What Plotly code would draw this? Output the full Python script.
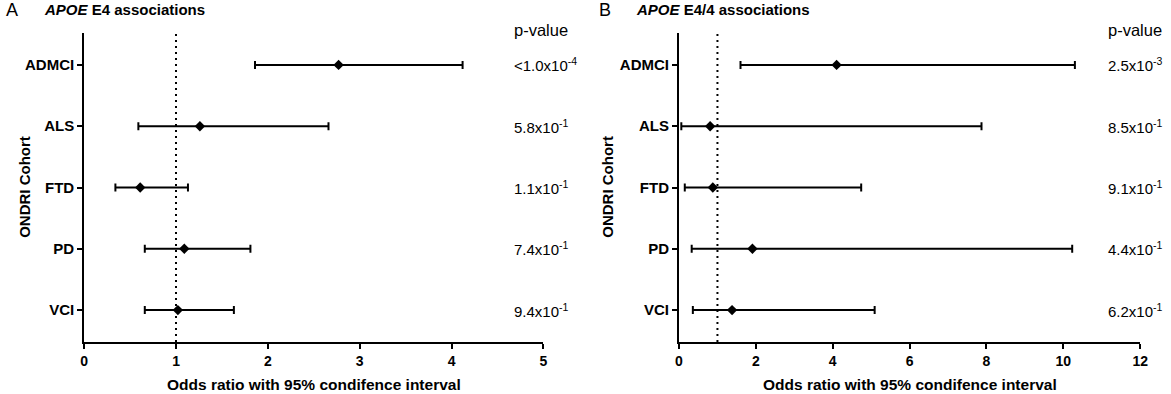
import plotly.graph_objects as go
from plotly.subplots import make_subplots

cohorts = ["ADMCI", "ALS", "FTD", "PD", "VCI"]

# Panel A: APOE E4
or_a = [2.77, 1.26, 0.61, 1.09, 1.02]
lo_a = [1.86, 0.59, 0.34, 0.66, 0.66]
hi_a = [4.12, 2.66, 1.13, 1.81, 1.63]
p_a = ["<1.0x10<sup>-4</sup>", "5.8x10<sup>-1</sup>", "1.1x10<sup>-1</sup>",
       "7.4x10<sup>-1</sup>", "9.4x10<sup>-1</sup>"]

# Panel B: APOE E4/4
or_b = [4.10, 0.81, 0.88, 1.91, 1.38]
lo_b = [1.60, 0.06, 0.15, 0.33, 0.36]
hi_b = [10.3, 7.87, 4.74, 10.23, 5.09]
p_b = ["2.5x10<sup>-3</sup>", "8.5x10<sup>-1</sup>", "9.1x10<sup>-1</sup>",
       "4.4x10<sup>-1</sup>", "6.2x10<sup>-1</sup>"]

W, H = 1171, 394
FONT = "Liberation Sans, Arial, sans-serif"

fig = make_subplots(rows=1, cols=2)

def add_panel(col, ors, los, his):
    fig.add_trace(go.Scatter(
        x=ors, y=cohorts, mode="markers",
        marker=dict(symbol="diamond", size=8, color="black"),
        error_x=dict(type="data", symmetric=False,
                     array=[h - o for h, o in zip(his, ors)],
                     arrayminus=[o - l for o, l in zip(ors, los)],
                     color="black", thickness=2, width=4),
        showlegend=False, hoverinfo="skip"), row=1, col=col)

add_panel(1, or_a, lo_a, hi_a)
add_panel(2, or_b, lo_b, hi_b)

ydom = [(H - 342) / H, (H - 33) / H]
xdomA = [81 / W, 545 / W]
xdomB = [682 / W, 1148 / W]

axis_common = dict(showline=True, linecolor="black", linewidth=2, ticks="outside",
                   ticklen=5, tickwidth=2, tickcolor="black", showgrid=False,
                   zeroline=False)

fig.update_xaxes(domain=xdomA, range=[0, 5], dtick=1, row=1, col=1,
                 tickfont=dict(family=FONT, size=14, color="black", weight="bold"), **axis_common)
fig.update_xaxes(domain=xdomB, range=[0, 12], dtick=2, row=1, col=2,
                 tickfont=dict(family=FONT, size=14, color="black", weight="bold"), **axis_common)
for c in (1, 2):
    fig.update_yaxes(domain=ydom, type="category", categoryarray=cohorts,
                     range=[4.52, -0.52], row=1, col=c,
                     tickfont=dict(family=FONT, size=15, color="black", weight="bold"), **axis_common)

# reference lines at OR = 1
for xr, yr in (("x", "y domain"), ("x2", "y2 domain")):
    fig.add_shape(type="line", xref=xr, yref=yr, x0=1, x1=1, y0=0, y1=1,
                  line=dict(color="black", width=2, dash="2px,4px"))

ann = []
def txt(x, y, text, size=15, bold=False, xanchor="left", yref="paper", textangle=0, xref="paper"):
    ann.append(dict(x=x, y=y, xref=xref, yref=yref, text=text, showarrow=False,
                    xanchor=xanchor, yanchor="middle", textangle=textangle,
                    font=dict(family=FONT, size=size, color="black",
                              weight="bold" if bold else "normal")))

# panel letters & titles
txt(0 / W, 1 - 10 / H, "A", size=18)
txt(38 / W, 1 - 10 / H, "<i>APOE</i> E4 associations", size=15, bold=True)
txt(599 / W, 1 - 10 / H, "B", size=18)
txt(637 / W, 1 - 10 / H, "<i>APOE</i> E4/4 associations", size=15, bold=True)

# p-value headers and values
txt(513 / W, 1 - 30 / H, "p-value", size=16.5)
txt(1113 / W, 1 - 30 / H, "p-value", size=16.5)
for i, c in enumerate(cohorts):
    txt(513 / W, c, p_a[i], size=15, yref="y")
    txt(1113 / W, c, p_b[i], size=15, yref="y2")

# axis titles
txt((81 + 545) / 2 / W, 1 - 384 / H, "Odds ratio with 95% condifence interval", size=15.5, bold=True, xanchor="center")
txt((682 + 1148) / 2 / W, 1 - 384 / H, "Odds ratio with 95% condifence interval", size=15.5, bold=True, xanchor="center")
txt(20 / W, 1 - 187 / H, "ONDRI Cohort", size=15, bold=True, xanchor="center", textangle=-90)
txt(609 / W, 1 - 187 / H, "ONDRI Cohort", size=15, bold=True, xanchor="center", textangle=-90)

fig.update_layout(width=W, height=H, margin=dict(l=0, r=0, t=0, b=0),
                  plot_bgcolor="white", paper_bgcolor="white",
                  font=dict(family=FONT, color="black"), annotations=ann)

fig.write_html("out.html", config={"displayModeBar": False},
               post_script="document.body.style.margin='0';document.body.style.overflow='hidden';")
